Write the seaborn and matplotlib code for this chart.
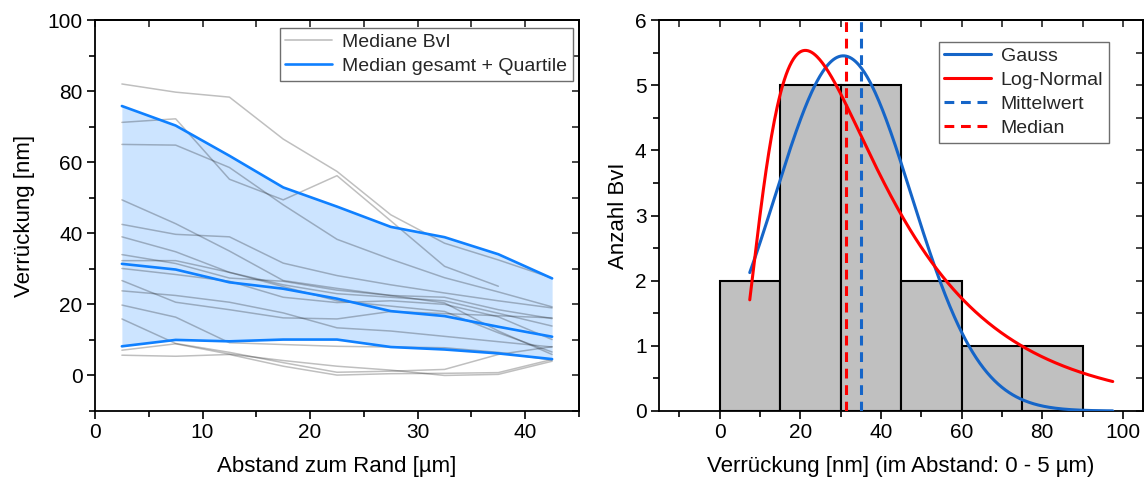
import numpy as np
import pandas as pd
import matplotlib
matplotlib.use("Agg")
import matplotlib.pyplot as plt
from matplotlib.lines import Line2D
from matplotlib.ticker import MultipleLocator
import seaborn as sns

sns.set_theme(style="white")
plt.rcParams["font.family"] = ["Liberation Sans", "DejaVu Sans"]

# ---------------- left panel data: displacement vs. distance to edge ----------------
distance_um = [2.5, 7.5, 12.5, 17.5, 22.5, 27.5, 32.5, 37.5, 42.5]

bvi_a = [82.0, 79.7, 78.3, 66.5, 57.4, 45.2, 37.2, 32.5, 27.4]
bvi_b = [71.2, 72.2, 55.2, 49.4, 56.2, 43.5, 30.7, 25.1, np.nan]
bvi_c = [65.0, 64.8, 58.5, 48.0, 38.3, 32.7, 27.5, 23.5, 19.3]
bvi_d = [49.4, 42.7, 35.0, 26.7, 24.5, 22.5, 20.4, 12.5, 5.9]
bvi_e = [42.5, 39.7, 39.0, 31.6, 28.1, 25.5, 23.2, 21.0, 19.0]
bvi_f = [39.0, 34.8, 29.0, 25.5, 23.0, 22.0, 21.0, 17.5, 13.9]
bvi_g = [34.0, 31.5, 27.4, 26.5, 24.0, 22.5, 22.0, 18.5, 16.0]
bvi_h = [32.3, 32.3, 29.0, 25.0, 21.0, 19.5, 18.0, 12.0, 6.6]
bvi_i = [30.1, 28.4, 26.5, 22.0, 20.5, 21.0, 20.0, 16.5, 10.1]
bvi_j = [26.7, 20.6, 18.5, 16.2, 15.9, 18.0, 17.4, 16.8, 16.2]
bvi_k = [23.8, 22.5, 20.6, 17.6, 13.4, 12.5, 11.0, 9.5, 8.0]
bvi_l = [19.8, 16.4, 9.2, 8.7, 8.2, 8.0, 7.8, 6.5, 4.3]
bvi_m = [15.9, 9.0, 6.5, 3.6, 0.9, 1.2, 1.7, 5.9, 8.1]
bvi_n = [7.1, 8.9, 6.0, 4.2, 2.6, 1.5, 0.0, 0.3, 4.0]
bvi_o = [5.7, 5.4, 5.9, 2.6, 0.1, 0.5, 0.6, 0.8, 4.5]

bvi_series = [bvi_a, bvi_b, bvi_c, bvi_d, bvi_e, bvi_f, bvi_g, bvi_h,
              bvi_i, bvi_j, bvi_k, bvi_l, bvi_m, bvi_n, bvi_o]

quartile_lower = [8.2, 10.0, 9.6, 10.1, 10.1, 8.0, 7.3, 6.2, 4.6]
median_total = [31.4, 29.8, 26.2, 24.4, 21.6, 18.1, 16.7, 13.7, 10.9]
quartile_upper = [75.8, 70.3, 61.8, 52.9, 47.5, 41.8, 38.9, 34.1, 27.3]

# ---------------- right panel data: histogram and fits ----------------
bin_edges = [0, 15, 30, 45, 60, 75, 90]
bin_counts = [2, 5, 5, 2, 1, 1]
mean_value = 35.1
median_value = 31.4

gauss_center, gauss_sigma, gauss_peak = 30.7, 16.9, 5.45
lognorm_xc, lognorm_w, lognorm_area = 33.8, 0.68, 253.0
fit_range = (7.5, 97.5)

# ---------------- styling ----------------
BLUE = "#0f80ff"
FILL = "#cce4ff"
GAUSS_BLUE = "#1565c8"
RED = "#ff0000"
TICK_FS = 15
LABEL_FS = 16
LEGEND_FS = 14

fig = plt.figure(figsize=(11.45, 4.8), dpi=100)
ax1 = fig.add_axes([95 / 1145, 69 / 480, 484 / 1145, 391 / 480])
ax2 = fig.add_axes([659 / 1145, 69 / 480, 484 / 1145, 391 / 480])


def style_axes(ax, xmaj, xmin, ymaj, ymin):
    for sp in ax.spines.values():
        sp.set_visible(True)
        sp.set_color("black")
        sp.set_linewidth(1.3)
    ax.xaxis.set_major_locator(MultipleLocator(xmaj))
    ax.xaxis.set_minor_locator(MultipleLocator(xmin))
    ax.yaxis.set_major_locator(MultipleLocator(ymaj))
    ax.yaxis.set_minor_locator(MultipleLocator(ymin))
    ax.tick_params(which="both", direction="out", bottom=True, left=True,
                   top=False, right=False, color="black", width=1.2,
                   labelsize=TICK_FS, labelcolor="black", pad=3)
    ax.tick_params(which="major", length=6)
    ax.tick_params(which="minor", length=4)
    top = ax.secondary_xaxis("top")
    top.xaxis.set_major_locator(MultipleLocator(xmaj))
    top.xaxis.set_minor_locator(MultipleLocator(xmin))
    top.tick_params(axis="x", which="both", direction="in", length=5,
                    width=1.2, labeltop=False, labelbottom=False)
    right = ax.secondary_yaxis("right")
    right.yaxis.set_major_locator(MultipleLocator(ymaj))
    right.yaxis.set_minor_locator(MultipleLocator(ymin))
    right.tick_params(axis="y", which="both", direction="in", length=5,
                      width=1.2, labelright=False, labelleft=False)
    for sec in (top, right):
        for sp in sec.spines.values():
            sp.set_linewidth(1.3)
            sp.set_color("black")


# ---------------- left panel ----------------
ax1.fill_between(distance_um, quartile_lower, quartile_upper,
                 color=FILL, linewidth=0, zorder=1)

long_rows = []
for idx, series in enumerate(bvi_series):
    for xv, yv in zip(distance_um, series):
        long_rows.append({"abstand": xv, "verrueckung": yv, "bvi": idx})
bvi_df = pd.DataFrame(long_rows).dropna()

sns.lineplot(data=bvi_df, x="abstand", y="verrueckung", units="bvi",
             estimator=None, color="black", alpha=0.25, linewidth=1.1,
             ax=ax1, zorder=2, legend=False)

for series in (quartile_lower, median_total, quartile_upper):
    sns.lineplot(x=distance_um, y=series, color=BLUE, linewidth=1.9,
                 ax=ax1, zorder=3, legend=False)

ax1.set_xlim(0, 45)
ax1.set_ylim(-10, 100)
style_axes(ax1, 10, 5, 20, 10)
ax1.set_xlabel("Abstand zum Rand [µm]", fontsize=LABEL_FS, color="black", labelpad=10)
ax1.set_ylabel("Verrückung [nm]", fontsize=LABEL_FS, color="black", labelpad=9)

leg1 = ax1.legend(
    handles=[Line2D([], [], color="#c4c4c4", linewidth=1.3),
             Line2D([], [], color=BLUE, linewidth=1.9)],
    labels=["Mediane BvI", "Median gesamt + Quartile"],
    loc="upper right", bbox_to_anchor=(0.987, 0.98), fontsize=LEGEND_FS,
    frameon=True, fancybox=False, framealpha=1, edgecolor="#6e6e6e",
    handlelength=2.4, handletextpad=0.5, labelspacing=0.3,
    borderpad=0.3, borderaxespad=0)
leg1.get_frame().set_linewidth(1.0)
leg1.set_zorder(5)

# ---------------- right panel ----------------
bin_centers = [(lo + hi) / 2 for lo, hi in zip(bin_edges[:-1], bin_edges[1:])]
sns.histplot(x=bin_centers, weights=bin_counts, bins=bin_edges, ax=ax2,
             color="#c0c0c0", edgecolor="black", linewidth=1.5, alpha=1,
             zorder=1)

xfit = np.linspace(fit_range[0], fit_range[1], 400)
gauss_y = gauss_peak * np.exp(-((xfit - gauss_center) ** 2) / (2 * gauss_sigma ** 2))
lognorm_y = (lognorm_area / (np.sqrt(2 * np.pi) * lognorm_w * xfit)
             * np.exp(-(np.log(xfit / lognorm_xc) ** 2) / (2 * lognorm_w ** 2)))

sns.lineplot(x=xfit, y=gauss_y, color=GAUSS_BLUE, linewidth=2.2, ax=ax2,
             zorder=4, label="Gauss")
sns.lineplot(x=xfit, y=lognorm_y, color=RED, linewidth=2.2, ax=ax2,
             zorder=4, label="Log-Normal")
ax2.axvline(mean_value, color=GAUSS_BLUE, linewidth=2.2, linestyle=(0, (3.2, 2.2)),
            zorder=3, label="Mittelwert")
ax2.axvline(median_value, color=RED, linewidth=2.2, linestyle=(0, (3.2, 2.2)),
            zorder=3, label="Median")

ax2.set_xlim(-15, 105)
ax2.set_ylim(0, 6)
style_axes(ax2, 20, 10, 1, 0.5)
ax2.set_xlabel("Verrückung [nm] (im Abstand: 0 - 5 µm)", fontsize=LABEL_FS,
               color="black", labelpad=10)
ax2.set_ylabel("Anzahl BvI", fontsize=LABEL_FS, color="black", labelpad=4)

leg2 = ax2.legend(loc="upper right", bbox_to_anchor=(0.93, 0.945),
                  fontsize=LEGEND_FS, frameon=True, fancybox=False, framealpha=1,
                  edgecolor="#6e6e6e", handlelength=2.4, handletextpad=0.5,
                  labelspacing=0.33, borderpad=0.3, borderaxespad=0)
leg2.get_frame().set_linewidth(1.0)
leg2.set_zorder(5)

fig.savefig("out.png", dpi=100, facecolor="white")
